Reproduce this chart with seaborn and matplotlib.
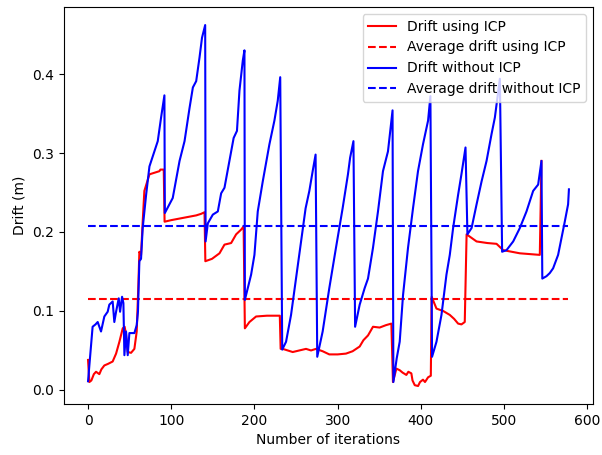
import numpy as np
import pandas as pd
import matplotlib
matplotlib.use("Agg")
import matplotlib.pyplot as plt
import seaborn as sns

# ---- data ----
iter_icp = [0, 1.6, 4, 7, 9.6, 13.6, 16, 19.6, 24, 29.6, 33.7, 37.7, 41.7, 44, 45.7, 47.7,
            51.7, 55.7, 58.5, 60.5, 61.7, 63.7, 65.7, 67.7, 73.8, 79.8, 85.8, 87, 91, 92,
            100, 110, 120, 130, 136, 140, 141, 149, 158, 164, 172, 178, 184, 187, 188.5,
            194, 202, 215, 230.5, 231.5, 234, 240, 246, 254, 262, 268, 274, 282, 290, 300,
            310, 318, 326.5, 331, 336.5, 342.5, 350.5, 358, 364.6, 366.5, 370.6, 374.6,
            378, 382.6, 385, 388.6, 390, 392.7, 396.7, 399, 402.6, 405, 408.7, 412, 413,
            418.8, 426.8, 434.8, 440, 444.8, 448.8, 452.8, 455, 467, 480, 491, 499, 519,
            543, 545]
drift_icp = [0.038, 0.010, 0.012, 0.020, 0.023, 0.020, 0.026, 0.031, 0.033, 0.036, 0.046,
             0.061, 0.078, 0.080, 0.070, 0.048, 0.047, 0.052, 0.074, 0.133, 0.175, 0.171,
             0.213, 0.252, 0.273, 0.275, 0.277, 0.279, 0.279, 0.213, 0.215, 0.217, 0.219,
             0.221, 0.223, 0.225, 0.163, 0.166, 0.173, 0.184, 0.186, 0.197, 0.203, 0.207,
             0.078, 0.086, 0.093, 0.094, 0.094, 0.052, 0.052, 0.050, 0.048, 0.050, 0.052,
             0.050, 0.052, 0.049, 0.045, 0.045, 0.046, 0.049, 0.055, 0.063, 0.069, 0.080,
             0.079, 0.082, 0.084, 0.010, 0.027, 0.025, 0.022, 0.019, 0.023, 0.021, 0.012,
             0.006, 0.005, 0.010, 0.013, 0.010, 0.016, 0.018, 0.118, 0.103, 0.100, 0.095,
             0.090, 0.084, 0.083, 0.086, 0.197, 0.188, 0.186, 0.185, 0.177, 0.173, 0.171,
             0.290]

iter_no_icp = [0, 5.5, 9, 11.6, 15.6, 19.6, 23.6, 25.6, 29.6, 31.6, 33.7, 36.9, 38.5, 40.9,
               42.5, 43.7, 45.7, 47.7, 49.7, 55.7, 58.5, 60, 61.7, 63.7, 65.7, 69.8, 73.8,
               79.8, 83.8, 87.8, 91.8, 92.3, 101.8, 110, 116, 122, 126, 130, 134, 137,
               140.8, 141.3, 144, 150, 156, 160, 164, 170, 175, 179, 182, 186, 188, 188.5,
               196, 200, 204, 210, 218, 224, 228, 231, 233.4, 238, 244, 250, 256, 261.5,
               266, 270, 273.5, 275.5, 282, 290, 298, 306, 312.4, 315, 319, 321, 326.5,
               332.5, 336.5, 342.5, 348.5, 354.5, 360.5, 366, 367, 371, 374.6, 378.6,
               384.6, 390.6, 396.6, 402.6, 408.7, 411.5, 413.5, 418.8, 424.8, 430.8,
               434.8, 438.8, 444.8, 448.8, 453.7, 456, 461, 467, 473, 479, 485, 489, 495,
               497.7, 503, 511, 519, 527, 535, 541, 545, 546, 551, 555, 559, 565, 569,
               573, 577, 578]
drift_no_icp = [0.011, 0.080, 0.083, 0.086, 0.074, 0.093, 0.099, 0.108, 0.112, 0.086, 0.099,
                0.116, 0.099, 0.118, 0.110, 0.044, 0.074, 0.044, 0.072, 0.072, 0.082, 0.099,
                0.163, 0.166, 0.205, 0.247, 0.283, 0.302, 0.315, 0.345, 0.373, 0.224, 0.243,
                0.290, 0.315, 0.357, 0.383, 0.391, 0.421, 0.446, 0.462, 0.188, 0.211, 0.222,
                0.226, 0.249, 0.256, 0.290, 0.319, 0.328, 0.379, 0.417, 0.430, 0.114, 0.146,
                0.171, 0.226, 0.264, 0.311, 0.341, 0.366, 0.396, 0.051, 0.061, 0.095, 0.141,
                0.188, 0.230, 0.252, 0.277, 0.298, 0.042, 0.074, 0.129, 0.180, 0.230, 0.273,
                0.294, 0.315, 0.080, 0.108, 0.129, 0.141, 0.180, 0.226, 0.277, 0.302, 0.354,
                0.010, 0.040, 0.061, 0.120, 0.180, 0.230, 0.277, 0.311, 0.341, 0.372, 0.042,
                0.061, 0.095, 0.146, 0.171, 0.205, 0.247, 0.273, 0.307, 0.197, 0.205, 0.235,
                0.264, 0.290, 0.324, 0.345, 0.394, 0.175, 0.177, 0.188, 0.205, 0.226, 0.252,
                0.260, 0.290, 0.141, 0.144, 0.148, 0.154, 0.171, 0.192, 0.213, 0.235, 0.254]

avg_span = [0, 577]
avg_icp = 0.1156
avg_no_icp = 0.207

labels = ["Drift using ICP", "Average drift using ICP",
          "Drift without ICP", "Average drift without ICP"]

# ---- plotting ----
plt.rcParams['font.family'] = ['DejaVu Sans']
plt.rcParams['font.size'] = 10

fig, ax = plt.subplots(figsize=(6.02, 4.55), dpi=100)
fig.subplots_adjust(left=0.1063, right=0.985, bottom=0.112, top=0.9846)

df_icp = pd.DataFrame({"x": iter_icp, "y": drift_icp})
df_no = pd.DataFrame({"x": iter_no_icp, "y": drift_no_icp})
df_avg_icp = pd.DataFrame({"x": avg_span, "y": [avg_icp, avg_icp]})
df_avg_no = pd.DataFrame({"x": avg_span, "y": [avg_no_icp, avg_no_icp]})

sns.lineplot(data=df_icp, x="x", y="y", ax=ax, color="#ff0000", linewidth=1.5,
             estimator=None, sort=False, label=labels[0])
sns.lineplot(data=df_avg_icp, x="x", y="y", ax=ax, color="#ff0000", linewidth=1.5,
             estimator=None, sort=False, label=labels[1], linestyle="--")
sns.lineplot(data=df_no, x="x", y="y", ax=ax, color="#0000ff", linewidth=1.5,
             estimator=None, sort=False, label=labels[2])
sns.lineplot(data=df_avg_no, x="x", y="y", ax=ax, color="#0000ff", linewidth=1.5,
             estimator=None, sort=False, label=labels[3], linestyle="--")

ax.set_xlabel("Number of iterations")
ax.set_ylabel("Drift (m)")
ax.set_xticks([0, 100, 200, 300, 400, 500, 600])
ax.set_yticks([0.0, 0.1, 0.2, 0.3, 0.4])
ax.legend(loc="upper right")

fig.savefig("out.png", dpi=100)
